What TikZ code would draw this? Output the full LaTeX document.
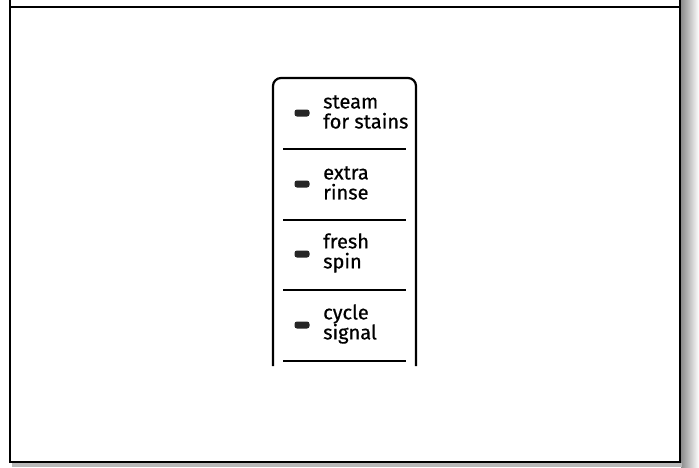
\documentclass[tikz,border=0pt]{standalone}
\usepackage{fontspec}
\setmainfont{Fira Sans}
\newfontfamily\panelfont{Fira Sans}[FakeBold=0.6]
\usetikzlibrary{positioning,calc}
\tikzset{font=\panelfont\fontsize{20}{20}\selectfont}

\begin{document}
\begin{tikzpicture}[x=1pt, y=-1pt]
	\useasboundingbox (0, 0) rectangle (699, 467);
	% shadow of the page
	\shade[left color=gray!90, right color=white] (681, 0) rectangle (699, 467);
	\fill[gray!55] (12, 463) rectangle (682, 467);

	% page edge
	\draw[line width=2.5pt, fill=white] (10, 0) -- (10, 462) -- (680, 462) -- (680, 0);
	\draw[line width=2.2pt] (10, 7) -- (680, 7);

	\begin{scope}
		\tikzstyle{every node}=[align=left, inner sep=0pt]
		\tikzset{led/.style={rectangle, rounded corners=2.5pt, fill=black!85, minimum width=15pt, minimum height=7pt}}
		\tikzset{option/.style={anchor=west}}

		% panel
		\draw[line width=2.2pt, rounded corners=8pt] (273, 366) -- (273, 78) -- (416, 78) -- (416, 366);

		\node[led] (ledsteam) at (302, 113) {};
		\node[led] (ledrinse) at (302, 184) {};
		\node[led] (ledspin) at (302, 254) {};
		\node[led] (ledsignal) at (302, 325) {};

		\node[option] (steam) at (323, 112) {steam\\for stains};
		\node[option] (rinse) at (323, 183) {extra\\rinse};
		\node[option] (spin) at (323, 253) {fresh\\spin};
		\node[option] (signal) at (323, 324) {cycle\\signal};

		\draw[line width=1.5pt] (283, 149) -- (406, 149);
		\draw[line width=1.5pt] (283, 220) -- (406, 220);
		\draw[line width=1.5pt] (283, 290) -- (406, 290);
		\draw[line width=1.5pt] (283, 361) -- (406, 361);
	\end{scope}
\end{tikzpicture}
\end{document}
